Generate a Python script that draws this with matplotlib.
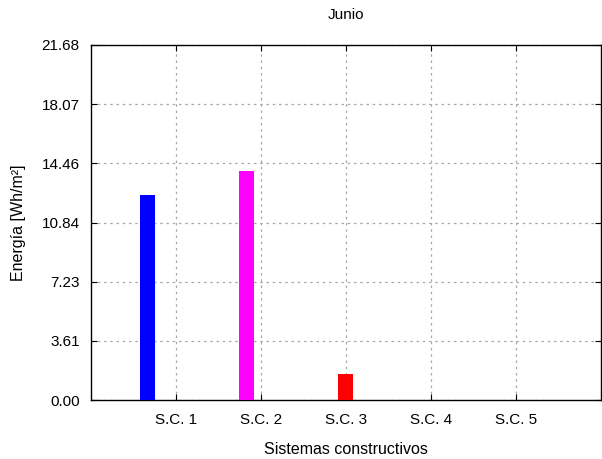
import matplotlib
matplotlib.use('Agg')
import matplotlib.pyplot as plt
import numpy as np

plt.rcParams['font.family'] = ['Liberation Sans', 'DejaVu Sans']

# datos
categorias = ['S.C. 1', 'S.C. 2', 'S.C. 3', 'S.C. 4', 'S.C. 5']
energia = [12.52, 13.99, 1.59, 0.0, 0.0]
colores = ['#0000ff', '#ff00ff', '#ff0000', '#00ff00', '#00ffff']
yticks = [0.00, 3.61, 7.23, 10.84, 14.46, 18.07, 21.68]

fig = plt.figure(figsize=(6.02, 4.59), dpi=100)
ax = fig.add_axes([0.151, 0.1285, 0.847, 0.7735])

x = np.arange(1, len(categorias) + 1)
ancho = 1 / 6
for i, (v, c) in enumerate(zip(energia, colores)):
    # cada serie ocupa su propio hueco dentro del grupo
    ax.bar(x[i] + (i - 2) * ancho, v, width=0.18, color=c, zorder=3)

ax.set_xlim(0, 6)
ax.set_ylim(0, 21.68)
ax.set_xticks(x)
ax.set_xticklabels(categorias)
ax.set_yticks(yticks)
ax.set_yticklabels(['%.2f' % t for t in yticks])

ax.grid(True, linestyle=(0, (2, 3)), color='#a8a8a8', linewidth=0.9)
ax.tick_params(direction='in', top=True, right=True, labelsize=11, length=4)
ax.tick_params(axis='x', pad=9.5)
ax.tick_params(axis='y', pad=8)
for s in ax.spines.values():
    s.set_linewidth(1.0)

ax.set_title('Junio', fontsize=11, pad=18.5)
ax.set_xlabel('Sistemas constructivos', fontsize=11.5, labelpad=11)
ax.set_ylabel('Energía [Wh/m²]', fontsize=11.5, labelpad=11)

fig.savefig('out.png', dpi=100)
